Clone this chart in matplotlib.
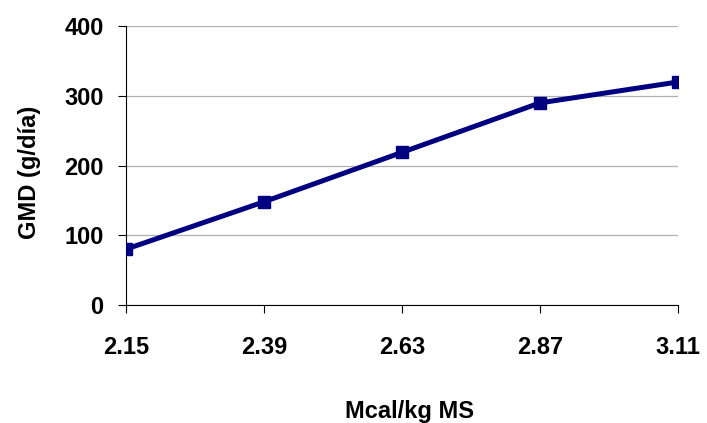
import numpy as np
import matplotlib
matplotlib.use("Agg")
import matplotlib.pyplot as plt

# data
energia = ["2.15", "2.39", "2.63", "2.87", "3.11"]
gmd = [80, 148, 219, 290, 320]
y_ticks = [0, 100, 200, 300, 400]

plt.rcParams['font.family'] = ['Liberation Sans', 'DejaVu Sans']

fig = plt.figure(figsize=(7.07, 4.23), dpi=100)
ax = fig.add_axes([0.178, 0.279, 0.781, 0.659])

x = np.arange(len(energia))
ax.plot(x, gmd, color='#000080', linewidth=3.6, marker='s', markersize=8, zorder=3)

ax.set_xlim(0, len(energia) - 1)
ax.set_ylim(0, 400)
ax.set_xticks(x)
ax.set_xticklabels(energia, fontsize=17, fontweight='bold')
ax.set_yticks(y_ticks)
ax.set_yticklabels([str(v) for v in y_ticks], fontsize=17, fontweight='bold')

ax.grid(axis='y', color='#b0b0b0', linewidth=0.9)
ax.set_axisbelow(True)
for s in ['top', 'right']:
    ax.spines[s].set_visible(False)
for s in ['left', 'bottom']:
    ax.spines[s].set_linewidth(0.8)
ax.tick_params(axis='x', direction='out', length=6, width=0.8, pad=16)
ax.tick_params(axis='y', direction='out', length=6, width=0.8, pad=10)

ax.set_xlabel("Mcal/kg MS", fontsize=17, fontweight='bold')
ax.xaxis.set_label_coords(0.513, -0.34)
ax.set_ylabel("GMD (g/día)", fontsize=17, fontweight='bold')
ax.yaxis.set_label_coords(-0.154, 0.477)

fig.savefig("out.png", dpi=100)
